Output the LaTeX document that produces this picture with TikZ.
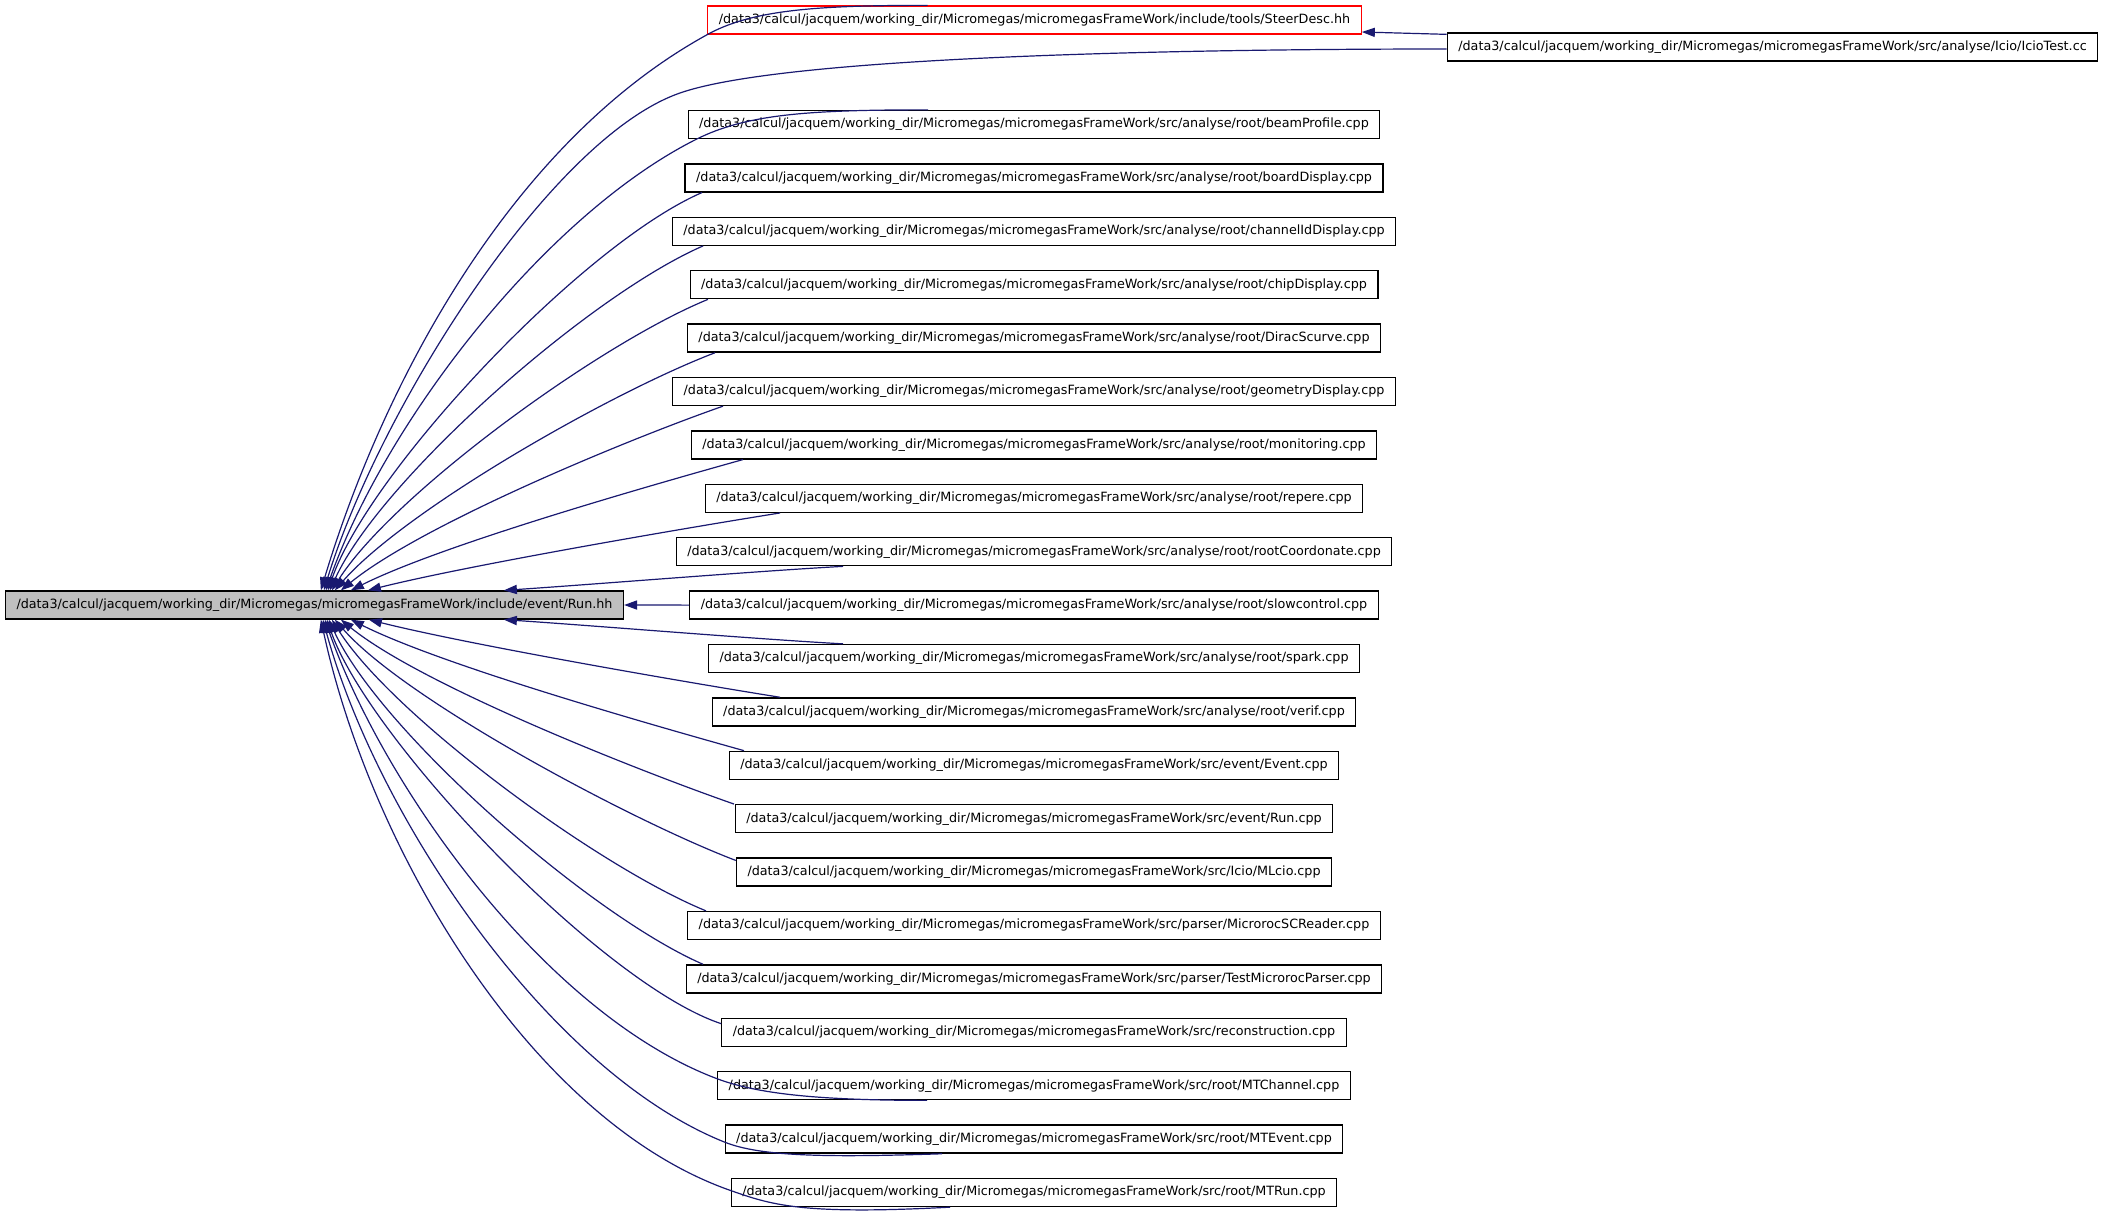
\documentclass[tikz,border=0pt]{standalone}
\usepackage{fontspec}
\setmainfont{DejaVu Sans}
\usetikzlibrary{arrows.meta,calc}
\definecolor{edgeblue}{HTML}{191970}
\definecolor{mainfill}{HTML}{BFBFBF}
\newcommand{\pfx}{/data3/calcul/jacquem/working\_dir/Micromegas/micromegasFrameWork}
\begin{document}
\begin{tikzpicture}[x=0.5pt,y=-0.5pt,
  file/.style={draw=black,line width=0.65pt,inner xsep=5.5pt,inner ysep=0pt,
    minimum height=14pt,font=\fontsize{6.375pt}{7.5pt}\selectfont},
  dep/.style={edgeblue,line width=0.6pt,-{Triangle[length=6.5pt,width=4.6pt]}}]
\useasboundingbox (0,0) rectangle (2107,1216);
%%% the header and the two files above it
\node[file,fill=mainfill] (run) at (314.5,605) {\pfx/include/event/Run.hh};
\node[file,draw=red] (steer) at (1034.5,20) {\pfx/include/tools/SteerDesc.hh};
\node[file] (icio) at (1772.5,47) {\pfx/src/analyse/Icio/IcioTest.cc};
%%% the files that include Run.hh
\node[file] (beamProfile) at (1034,124.5) {\pfx/src/analyse/root/beamProfile.cpp};
\node[file] (boardDisplay) at (1034,177.9) {\pfx/src/analyse/root/boardDisplay.cpp};
\node[file] (channelIdDisplay) at (1034,231.3) {\pfx/src/analyse/root/channelIdDisplay.cpp};
\node[file] (chipDisplay) at (1034,284.7) {\pfx/src/analyse/root/chipDisplay.cpp};
\node[file] (diracScurve) at (1034,338.1) {\pfx/src/analyse/root/DiracScurve.cpp};
\node[file] (geometryDisplay) at (1034,391.5) {\pfx/src/analyse/root/geometryDisplay.cpp};
\node[file] (monitoring) at (1034,444.9) {\pfx/src/analyse/root/monitoring.cpp};
\node[file] (repere) at (1034,498.3) {\pfx/src/analyse/root/repere.cpp};
\node[file] (rootCoordonate) at (1034,551.7) {\pfx/src/analyse/root/rootCoordonate.cpp};
\node[file] (slowcontrol) at (1034,605.1) {\pfx/src/analyse/root/slowcontrol.cpp};
\node[file] (spark) at (1034,658.5) {\pfx/src/analyse/root/spark.cpp};
\node[file] (verif) at (1034,711.9) {\pfx/src/analyse/root/verif.cpp};
\node[file] (eventCpp) at (1034,765.3) {\pfx/src/event/Event.cpp};
\node[file] (runCpp) at (1034,818.7) {\pfx/src/event/Run.cpp};
\node[file] (mlcio) at (1034,872.1) {\pfx/src/Icio/MLcio.cpp};
\node[file] (scReader) at (1034,925.5) {\pfx/src/parser/MicrorocSCReader.cpp};
\node[file] (testParser) at (1034,978.9) {\pfx/src/parser/TestMicrorocParser.cpp};
\node[file] (reconstruction) at (1034,1032.3) {\pfx/src/reconstruction.cpp};
\node[file] (mtChannel) at (1034,1085.7) {\pfx/src/root/MTChannel.cpp};
\node[file] (mtEvent) at (1034,1139.1) {\pfx/src/root/MTEvent.cpp};
\node[file] (mtRun) at (1034,1192.5) {\pfx/src/root/MTRun.cpp};
%%% edges above the header
\draw[dep] ($(icio.north west)+(0,2)$) -- ($(steer.east)+(0,12)$);
\draw[dep] ($(steer.north)+(-107,0)$) .. controls +(-110,0) and +(45,-25) .. (steer.south west)
  .. controls +(-200,110) and +(60,-200) .. ($(run.north west)+(316,0)$);
\draw[dep] ($(icio.west)+(0,2)$) .. controls +(-300,0) and +(100,-35) .. (680,93)
  .. controls +(-130,45) and +(55,-180) .. ($(run.north west)+(319,0)$);
\draw[dep] ($(beamProfile.north)+(-106,0)$) .. controls +(-120,0) and +(50,-25) .. ($(beamProfile.south west)+(9,0)$)
  .. controls +(-150,75) and +(60,-170) .. ($(run.north west)+(321,0)$);
\draw[dep] ($(boardDisplay.south)+(-332,0)$) .. controls +(-120,52) and +(42,-120) .. ($(run.north west)+(323,0)$);
\draw[dep] ($(channelIdDisplay.south)+(-331,0)$) .. controls +(-115,50) and +(50,-110) .. ($(run.north west)+(325,0)$);
\draw[dep] ($(chipDisplay.south)+(-326,0)$) .. controls +(-110,45) and +(60,-95) .. ($(run.north west)+(327,0)$);
\draw[dep] ($(diracScurve.south)+(-319,0)$) .. controls +(-105,40) and +(70,-80) .. ($(run.north west)+(330,0)$);
\draw[dep] ($(geometryDisplay.south)+(-311,0)$) .. controls +(-100,35) and +(80,-65) .. ($(run.north west)+(336,0)$);
\draw[dep] ($(monitoring.south)+(-291,0)$) .. controls +(-100,28) and +(90,-45) .. ($(run.north west)+(346,0)$);
\draw[dep] ($(repere.south)+(-254,0)$) .. controls +(-100,16) and +(100,-25) .. ($(run.north west)+(363,0)$);
\draw[dep] ($(rootCoordonate.south)+(-191,0)$) .. controls +(-90,5) and +(90,-6) .. ($(run.north west)+(499,0)$);
\draw[dep] (slowcontrol.west) -- (run.east);
%%% edges below the header
\draw[dep] ($(spark.north)+(-191,0)$) .. controls +(-90,-5) and +(90,6) .. ($(run.south west)+(499,0)$);
\draw[dep] ($(verif.north)+(-254,0)$) .. controls +(-100,-16) and +(100,25) .. ($(run.south west)+(364,0)$);
\draw[dep] ($(eventCpp.north)+(-290,0)$) .. controls +(-100,-28) and +(90,45) .. ($(run.south west)+(346,0)$);
\draw[dep] ($(runCpp.north)+(-300,0)$) .. controls +(-100,-35) and +(80,65) .. ($(run.south west)+(336,0)$);
\draw[dep] ($(mlcio.north west)+(0,3)$) .. controls +(-105,-40) and +(70,80) .. ($(run.south west)+(330,0)$);
\draw[dep] ($(scReader.north)+(-328,0)$) .. controls +(-110,-45) and +(60,95) .. ($(run.south west)+(327,0)$);
\draw[dep] ($(testParser.north)+(-331,0)$) .. controls +(-115,-50) and +(50,110) .. ($(run.south west)+(324,0)$);
\draw[dep] ($(reconstruction.north west)+(0,6)$) .. controls +(-120,-40) and +(42,120) .. ($(run.south west)+(322,0)$);
\draw[dep] ($(mtChannel.south)+(-107,0)$) .. controls +(-110,0) and +(40,15) .. ($(mtChannel.west)+(0,-7)$)
  .. controls +(-170,-64) and +(60,170) .. ($(run.south west)+(320,0)$);
\draw[dep] ($(mtEvent.south)+(-92,0)$) .. controls +(-120,4) and +(35,14) .. ($(mtEvent.west)+(0,3)$)
  .. controls +(-175,-70) and +(55,200) .. ($(run.south west)+(318,0)$);
\draw[dep] ($(mtRun.south)+(-84,0)$) .. controls +(-150,8) and +(40,14) .. ($(mtRun.west)+(0,-2)$)
  .. controls +(-200,-70) and +(50,230) .. ($(run.south west)+(316,0)$);
\end{tikzpicture}
\end{document}
